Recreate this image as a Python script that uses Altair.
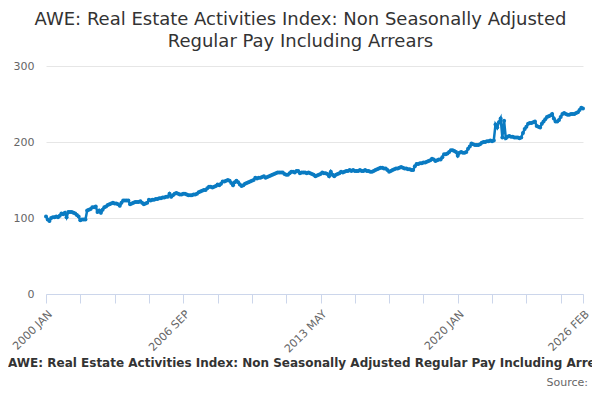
import altair as alt
import pandas as pd

months = ["JAN", "FEB", "MAR", "APR", "MAY", "JUN", "JUL", "AUG", "SEP", "OCT", "NOV", "DEC"]

values = [
    102, 98, 96, 100, 101, 101, 102, 101, 103, 106, 105, 107,   # 2000
    101, 108, 108, 108, 107, 106, 104, 102, 97, 98, 98, 98,     # 2001
    110, 111, 112, 114, 114, 115, 108, 110, 107, 111, 114, 115, # 2002
    117, 118, 119, 120, 119, 119, 118, 116, 120, 123, 123, 123, # 2003
    123, 118, 119, 120, 121, 121, 121, 122, 120, 118, 119, 120, # 2004
    124, 123, 124, 124, 125, 125, 126, 126, 127, 127, 128, 128, # 2005
    132, 128, 130, 132, 133, 132, 131, 131, 132, 132, 131, 130, # 2006
    130, 130, 131, 131, 132, 134, 135, 136, 137, 137, 139, 141, # 2007
    141, 140, 141, 142, 144, 143, 145, 148, 148, 149, 150, 149, # 2008
    146, 143, 147, 149, 147, 144, 142, 143, 145, 146, 147, 148, # 2009
    149, 150, 153, 152, 153, 153, 154, 155, 153, 154, 155, 156, # 2010
    157, 158, 159, 160, 160, 160, 160, 158, 157, 157, 159, 161, # 2011
    161, 160, 162, 162, 159, 160, 160, 160, 159, 160, 159, 158, # 2012
    157, 155, 156, 157, 158, 160, 159, 159, 158, 155, 161, 157, # 2013
    155, 157, 158, 159, 161, 160, 161, 162, 162, 163, 162, 163, # 2014
    162, 162, 162, 163, 162, 162, 163, 162, 162, 161, 161, 162, # 2015
    163, 164, 165, 166, 166, 165, 165, 163, 161, 162, 163, 164, # 2016
    165, 165, 166, 167, 166, 165, 165, 164, 164, 163, 163, 168, # 2017
    171, 171, 172, 172, 173, 173, 174, 175, 176, 178, 177, 175, # 2018
    176, 177, 177, 180, 184, 184, 185, 187, 189, 189, 188, 187, # 2019
    182, 186, 187, 186, 186, 187, 191, 194, 198, 197, 196, 196, # 2020
    196, 197, 199, 200, 200, 201, 201, 202, 201, 202, 223, 219, # 2021
    226, 231, 206, 228, 205, 207, 208, 207, 207, 206, 206, 206, # 2022
    205, 206, 212, 217, 220, 224, 225, 225, 226, 227, 221, 220, # 2023
    219, 224, 227, 230, 233, 234, 235, 237, 231, 227, 227, 229, # 2024
    233, 237, 238, 237, 236, 236, 237, 237, 237, 238, 239, 242, # 2025
    245, 244,                                                   # 2026
]

periods = [f"{2000 + i // 12} {months[i % 12]}" for i in range(len(values))]
label_periods = ["2000 JAN", "2006 SEP", "2013 MAY", "2020 JAN", "2026 FEB"]
tick_periods = [periods[i] for i in range(0, len(periods), 20)] + [periods[-1]]
y_ticks = [0, 100, 200, 300]

df = pd.DataFrame({"period": periods, "value": values})

W, H = 537, 228
label_test = " || ".join(f"datum.value == '{p}'" for p in label_periods)

base = alt.Chart(df)

line = base.mark_line(
    color="#0a7bc2", strokeWidth=2.5,
    point=alt.OverlayMarkDef(color="#0a7bc2", size=16, filled=True, opacity=1),
).encode(
    x=alt.X("period:O", sort=periods, title=None,
            scale=alt.Scale(type="point", padding=0),
            axis=alt.Axis(values=tick_periods, labelAngle=-45,
                          labelExpr=f"({label_test}) ? datum.value : ''",
                          domainColor="#ccd6eb", tickColor="#ccd6eb", tickSize=9,
                          labelColor="#666666", labelFontSize=11, labelFont="DejaVu Sans",
                          labelPadding=5, grid=False, labelOverlap=False)),
    y=alt.Y("value:Q", title=None,
            scale=alt.Scale(domain=[0, 300], nice=False),
            axis=alt.Axis(values=y_ticks, domain=False, ticks=False, gridColor="#e6e6e6",
                          labelColor="#666666", labelFontSize=11, labelFont="DejaVu Sans",
                          labelPadding=12)),
)

caption = alt.Chart(pd.DataFrame({"t": ["AWE: Real Estate Activities Index: Non Seasonally Adjusted Regular Pay Including Arrears"]})).mark_text(
    font="DejaVu Sans", fontSize=12, fontWeight="bold", color="#333333", align="center", baseline="middle"
).encode(x=alt.value(W / 2 - 2), y=alt.value(H + 69), text="t:N")

source = alt.Chart(pd.DataFrame({"t": ["Source:"]})).mark_text(
    font="DejaVu Sans", fontSize=11, color="#666666", align="right", baseline="middle"
).encode(x=alt.value(W + 5), y=alt.value(H + 89), text="t:N")

chart = alt.layer(line, caption, source).properties(
    width=W, height=H,
    autosize=alt.AutoSizeParams(type="none"),
    padding={"left": 38, "top": 58, "right": 9, "bottom": 98},
    title=alt.TitleParams(
        text=["AWE: Real Estate Activities Index: Non Seasonally Adjusted", "Regular Pay Including Arrears"],
        font="DejaVu Sans", fontSize=18, fontWeight="normal", color="#333333",
        anchor="middle", offset=9, dx=-14, lineHeight=22,
    ),
).configure_view(stroke=None)

chart.save("out.html", embed_options={"renderer": "svg", "actions": False})
